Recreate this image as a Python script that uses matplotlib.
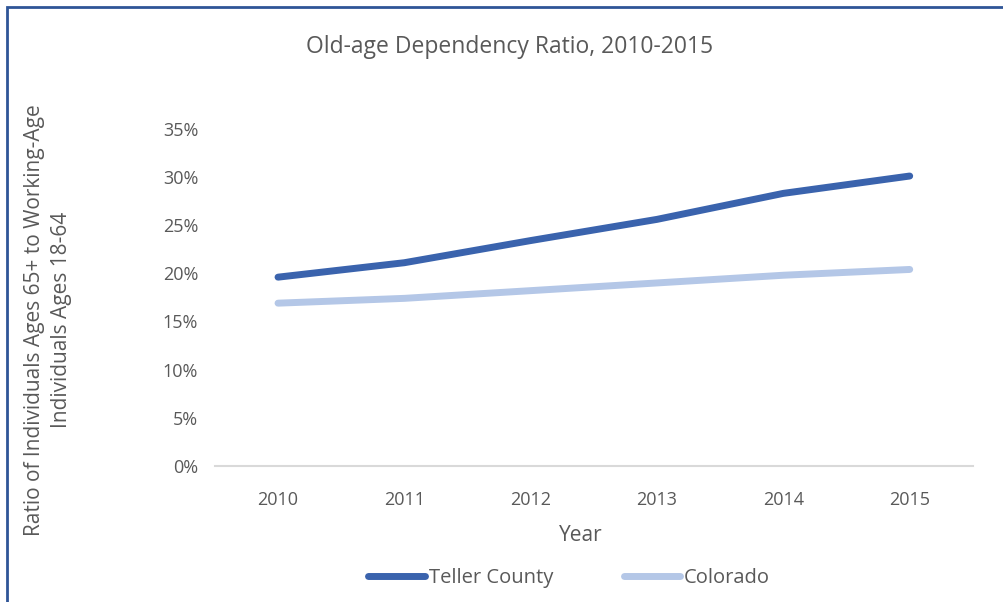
import matplotlib.pyplot as plt
from matplotlib.patches import Rectangle
from matplotlib.ticker import PercentFormatter

plt.rcParams['font.family'] = ['Open Sans', 'DejaVu Sans']

years = ['2010', '2011', '2012', '2013', '2014', '2015']
teller = [19.6, 21.1, 23.4, 25.6, 28.3, 30.1]
colorado = [16.9, 17.4, 18.2, 19.0, 19.8, 20.4]

grey = '#595959'

fig = plt.figure(figsize=(10.04, 6.02), dpi=100)
ax = fig.add_axes([0.214, 0.226, 0.755, 0.560])

x = range(len(years))
ax.plot(x, teller, color='#3A63AD', lw=5, solid_capstyle='round', label='Teller County')
ax.plot(x, colorado, color='#B4C7E7', lw=5, solid_capstyle='round', label='Colorado')

ax.set_xlim(-0.5, len(years) - 0.5)
ax.set_ylim(0, 35)
ax.set_yticks(range(0, 36, 5))
ax.yaxis.set_major_formatter(PercentFormatter(decimals=0))
ax.set_xticks(list(x))
ax.set_xticklabels(years)
ax.tick_params(length=0, labelsize=13, colors=grey)
ax.tick_params(axis='x', pad=18)
ax.tick_params(axis='y', pad=12)

for s in ['top', 'right', 'left']:
    ax.spines[s].set_visible(False)
ax.spines['bottom'].set_color('#D9D9D9')
ax.spines['bottom'].set_linewidth(1.5)

ax.set_xlabel('Year', fontsize=15, color=grey)
ax.xaxis.set_label_coords(0.483, -0.176)
fig.text(0.048, 0.468, 'Ratio of Individuals Ages 65+ to Working-Age\nIndividuals Ages 18-64',
         rotation=90, ha='center', va='center', fontsize=15, color=grey, linespacing=1.4)
fig.text(0.508, 0.922, 'Old-age Dependency Ratio, 2010-2015', ha='center', va='center',
         fontsize=16.5, color=grey)

fig.legend(loc='center', bbox_to_anchor=(0.567, 0.040), ncol=2, frameon=False,
           fontsize=14.5, labelcolor=grey, handlelength=2.8, handletextpad=0.2,
           columnspacing=3.5)

fig.add_artist(Rectangle((7 / 1004, -0.1), 1.2, 1.1 - 7 / 602, transform=fig.transFigure,
                         fill=False, edgecolor='#2F5597', lw=2))

fig.savefig('out.png', dpi=100)
